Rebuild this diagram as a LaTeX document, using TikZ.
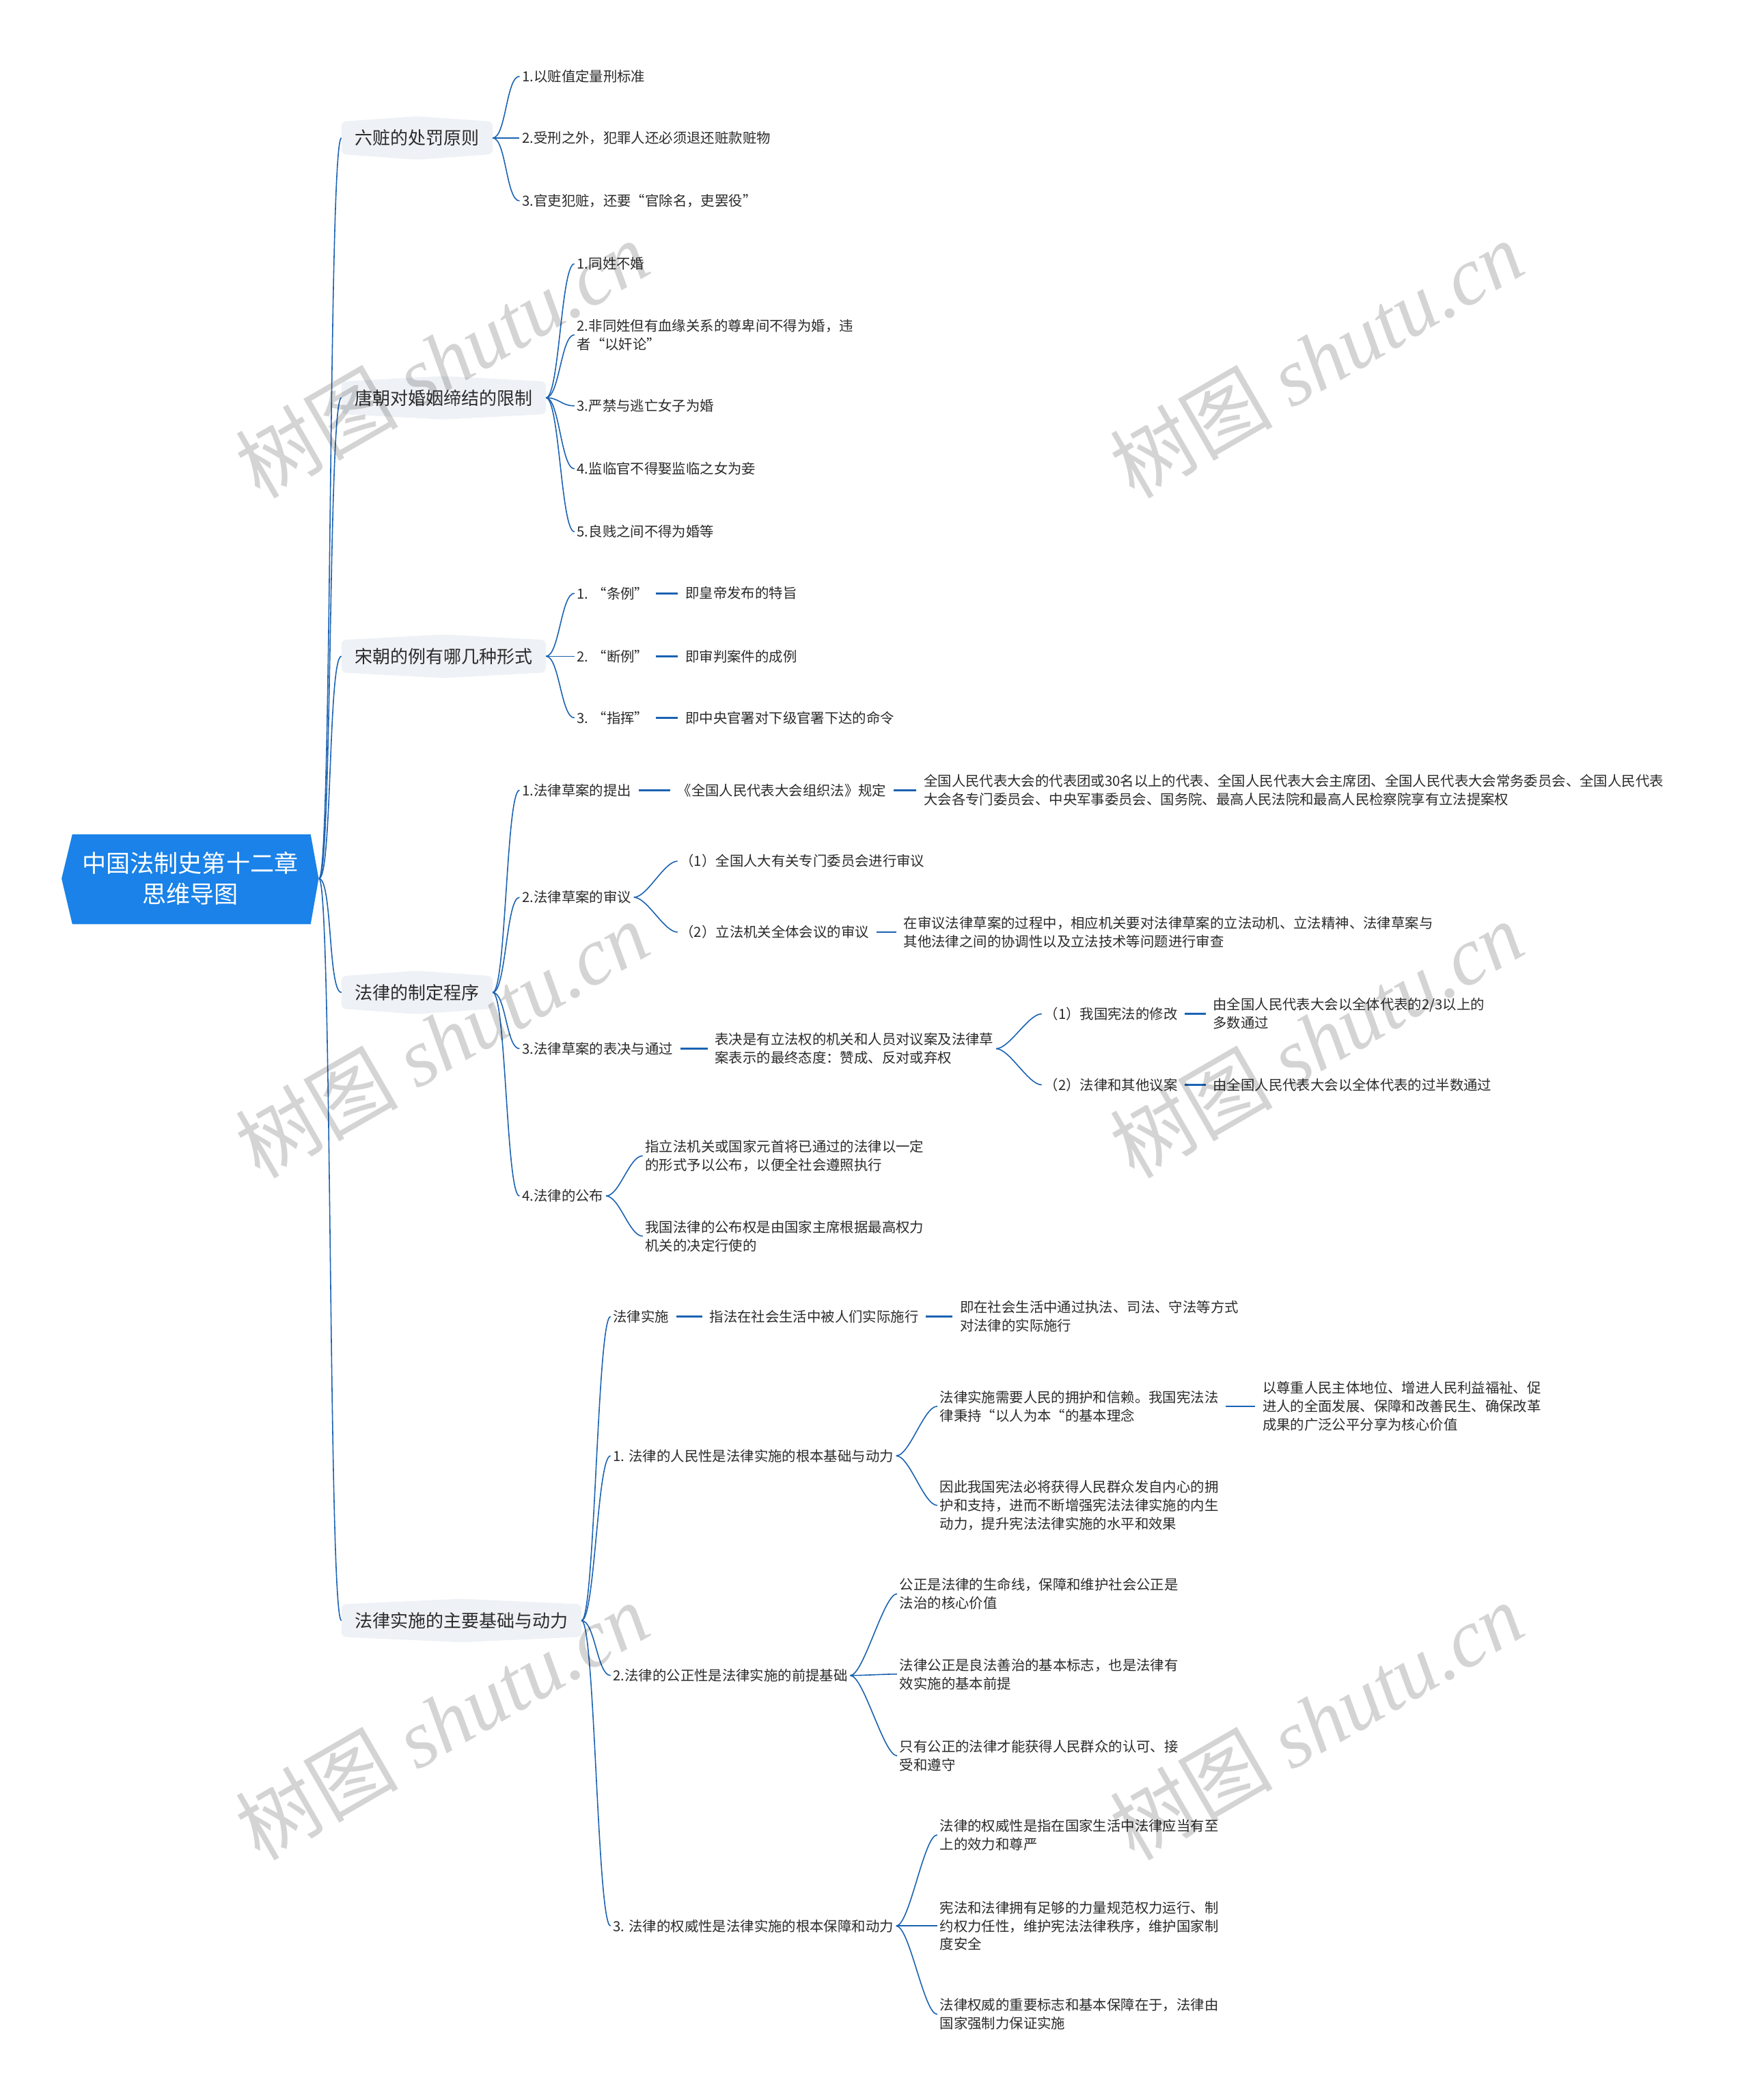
\documentclass[tikz,border=0pt]{standalone}
\usepackage{fontspec}
\setmainfont{Noto Sans CJK SC}
\newfontfamily\wmlatin{Liberation Serif}
\usetikzlibrary{calc,backgrounds}
\definecolor{linkblue}{HTML}{1A62B2}
\definecolor{rootblue}{HTML}{1A82E8}
\definecolor{brfill}{HTML}{EEF1F5}
\definecolor{textdark}{HTML}{2B2B2B}
\tikzset{
  link/.style={draw=linkblue, line width=0.9pt, to path={.. controls +(10,0) and +(-10,0) .. (\tikztotarget)}},
  seglink/.style={draw=linkblue, line width=1.5pt, shorten <=4pt, shorten >=4pt},
  rootnode/.style={minimum width=7.53cm, minimum height=2.6cm, inner sep=0pt, align=center, text=white, font=\fontsize{20pt}{25.6pt}\selectfont},
  branch/.style={anchor=west, inner xsep=11pt, minimum height=0.94cm, text=textdark, font=\fontsize{14.8pt}{18pt}\selectfont},
  leaf/.style={anchor=west, inner xsep=2pt, inner ysep=1pt, align=left, text=textdark, font=\fontsize{11.6pt}{15.3pt}\selectfont},
  wmark/.style={rotate=30, text=black, opacity=0.17, font=\fontsize{68pt}{70pt}\selectfont}
}
\begin{document}
\begin{tikzpicture}[x=0.0392cm,y=-0.0392cm]

% root
\fill[rootblue] (46,656) -- (54,623) -- (232,623) -- (238,656) -- (232,690) -- (54,690) -- cycle;
\node[rootnode] (root) at (142,656) {中国法制史第十二章\\思维导图};

% main branches
\node[branch] (liuzang) at (255,103) {六赃的处罚原则};
\node[branch] (hunyin) at (255,297) {唐朝对婚姻缔结的限制};
\node[branch] (songli) at (255,490) {宋朝的例有哪几种形式};
\node[branch] (zhiding) at (255,741) {法律的制定程序};
\node[branch] (shishi) at (255,1210) {法律实施的主要基础与动力};

% 六赃
\node[leaf] (lz1) at (388,57) {1.以赃值定量刑标准};
\node[leaf] (lz2) at (388,103) {2.受刑之外，犯罪人还必须退还赃款赃物};
\node[leaf] (lz3) at (388,150) {3.官吏犯赃，还要“官除名，吏罢役”};

% 婚姻
\node[leaf] (hy1) at (429,197) {1.同姓不婚};
\node[leaf] (hy2) at (429,250) {2.非同姓但有血缘关系的尊卑间不得为婚，违\\者“以奸论”};
\node[leaf] (hy3) at (429,303) {3.严禁与逃亡女子为婚};
\node[leaf] (hy4) at (429,350) {4.监临官不得娶监临之女为妾};
\node[leaf] (hy5) at (429,397) {5.良贱之间不得为婚等};

% 宋朝的例
\node[leaf] (sl1) at (429,443) {1. “条例”};
\node[leaf] (sl1a) at (510,443) {即皇帝发布的特旨};
\node[leaf] (sl2) at (429,490) {2. “断例”};
\node[leaf] (sl2a) at (510,490) {即审判案件的成例};
\node[leaf] (sl3) at (429,536) {3. “指挥”};
\node[leaf] (sl3a) at (510,536) {即中央官署对下级官署下达的命令};

% 制定程序
\node[leaf] (zd1) at (388,590) {1.法律草案的提出};
\node[leaf] (zd1a) at (504,590) {《全国人民代表大会组织法》规定};
\node[leaf] (zd1b) at (688,590) {全国人民代表大会的代表团或30名以上的代表、全国人民代表大会主席团、全国人民代表大会常务委员会、全国人民代表\\大会各专门委员会、中央军事委员会、国务院、最高人民法院和最高人民检察院享有立法提案权};
\node[leaf] (zd2) at (388,670) {2.法律草案的审议};
\node[leaf] (zd2a) at (506,643) {（1）全国人大有关专门委员会进行审议};
\node[leaf] (zd2b) at (506,696) {（2）立法机关全体会议的审议};
\node[leaf] (zd2c) at (673,696) {在审议法律草案的过程中，相应机关要对法律草案的立法动机、立法精神、法律草案与\\其他法律之间的协调性以及立法技术等问题进行审查};
\node[leaf] (zd3) at (388,783) {3.法律草案的表决与通过};
\node[leaf] (zd3a) at (532,783) {表决是有立法权的机关和人员对议案及法律草\\案表示的最终态度：赞成、反对或弃权};
\node[leaf] (zd3b) at (778,757) {（1）我国宪法的修改};
\node[leaf] (zd3c) at (904,757) {由全国人民代表大会以全体代表的2/3以上的\\多数通过};
\node[leaf] (zd3d) at (778,810) {（2）法律和其他议案};
\node[leaf] (zd3e) at (904,810) {由全国人民代表大会以全体代表的过半数通过};
\node[leaf] (zd4) at (388,893) {4.法律的公布};
\node[leaf] (zd4a) at (480,863) {指立法机关或国家元首将已通过的法律以一定\\的形式予以公布，以便全社会遵照执行};
\node[leaf] (zd4b) at (480,923) {我国法律的公布权是由国家主席根据最高权力\\机关的决定行使的};

% 法律实施
\node[leaf] (ss0) at (456,983) {法律实施};
\node[leaf] (ss0a) at (528,983) {指法在社会生活中被人们实际施行};
\node[leaf] (ss0b) at (715,983) {即在社会生活中通过执法、司法、守法等方式\\对法律的实际施行};
\node[leaf] (ss1) at (456,1087) {1. 法律的人民性是法律实施的根本基础与动力};
\node[leaf] (ss1a) at (700,1050) {法律实施需要人民的拥护和信赖。我国宪法法\\律秉持“以人为本“的基本理念};
\node[leaf] (ss1b) at (941,1050) {以尊重人民主体地位、增进人民利益福祉、促\\进人的全面发展、保障和改善民生、确保改革\\成果的广泛公平分享为核心价值};
\node[leaf] (ss1c) at (700,1124) {因此我国宪法必将获得人民群众发自内心的拥\\护和支持，进而不断增强宪法法律实施的内生\\动力，提升宪法法律实施的水平和效果};
\node[leaf] (ss2) at (456,1251) {2.法律的公正性是法律实施的前提基础};
\node[leaf] (ss2a) at (670,1190) {公正是法律的生命线，保障和维护社会公正是\\法治的核心价值};
\node[leaf] (ss2b) at (670,1250) {法律公正是良法善治的基本标志，也是法律有\\效实施的基本前提};
\node[leaf] (ss2c) at (670,1311) {只有公正的法律才能获得人民群众的认可、接\\受和遵守};
\node[leaf] (ss3) at (456,1438) {3. 法律的权威性是法律实施的根本保障和动力};
\node[leaf] (ss3a) at (700,1370) {法律的权威性是指在国家生活中法律应当有至\\上的效力和尊严};
\node[leaf] (ss3b) at (700,1438) {宪法和法律拥有足够的力量规范权力运行、制\\约权力任性，维护宪法法律秩序，维护国家制\\度安全};
\node[leaf] (ss3c) at (700,1504) {法律权威的重要标志和基本保障在于，法律由\\国家强制力保证实施};

% branch boxes behind the text
\begin{scope}[on background layer]
\fill[white] (0,0) rectangle (1306,1568);
\foreach \b in {liuzang,hunyin,songli,zhiding,shishi}
  \fill[brfill, rounded corners=4pt] (\b.north west) -- ([yshift=4.5pt]\b.north) -- (\b.north east)
    -- (\b.south east) -- ([yshift=-4.5pt]\b.south) -- (\b.south west) -- cycle;
\end{scope}

% curved links
\foreach \b in {liuzang,hunyin,songli,zhiding,shishi}
  \draw[link] (root.east) to (\b.west);
\foreach \c in {lz1,lz2,lz3}
  \draw[link] (liuzang.east) to (\c.west);
\foreach \c in {hy1,hy2,hy3,hy4,hy5}
  \draw[link] (hunyin.east) to (\c.west);
\foreach \c in {sl1,sl2,sl3}
  \draw[link] (songli.east) to (\c.west);
\foreach \c in {zd1,zd2,zd3,zd4}
  \draw[link] (zhiding.east) to (\c.west);
\foreach \c in {ss0,ss1,ss2,ss3}
  \draw[link] (shishi.east) to (\c.west);
\foreach \p/\c in {zd2/zd2a,zd2/zd2b,zd3a/zd3b,zd3a/zd3d,zd4/zd4a,zd4/zd4b,ss1/ss1a,ss1/ss1c,ss2/ss2a,ss2/ss2b,ss2/ss2c,ss3/ss3a,ss3/ss3b,ss3/ss3c}
  \draw[link] (\p.east) to (\c.west);

% straight links
\foreach \a/\b in {sl1/sl1a,sl2/sl2a,sl3/sl3a,zd1/zd1a,zd1a/zd1b,zd2b/zd2c,zd3/zd3a,zd3b/zd3c,zd3d/zd3e,ss0/ss0a,ss0a/ss0b,ss1a/ss1b}
  \draw[seglink] (\a.east) -- (\b.west);

% watermark
\foreach \wx/\wy [count=\i] in {330/268,983/268,330/776,983/776,330/1285,983/1285}
  \node[wmark] (wm\i) at (\wx,\wy) {树图 {\wmlatin\itshape shutu.cn}};
\end{tikzpicture}
\end{document}
